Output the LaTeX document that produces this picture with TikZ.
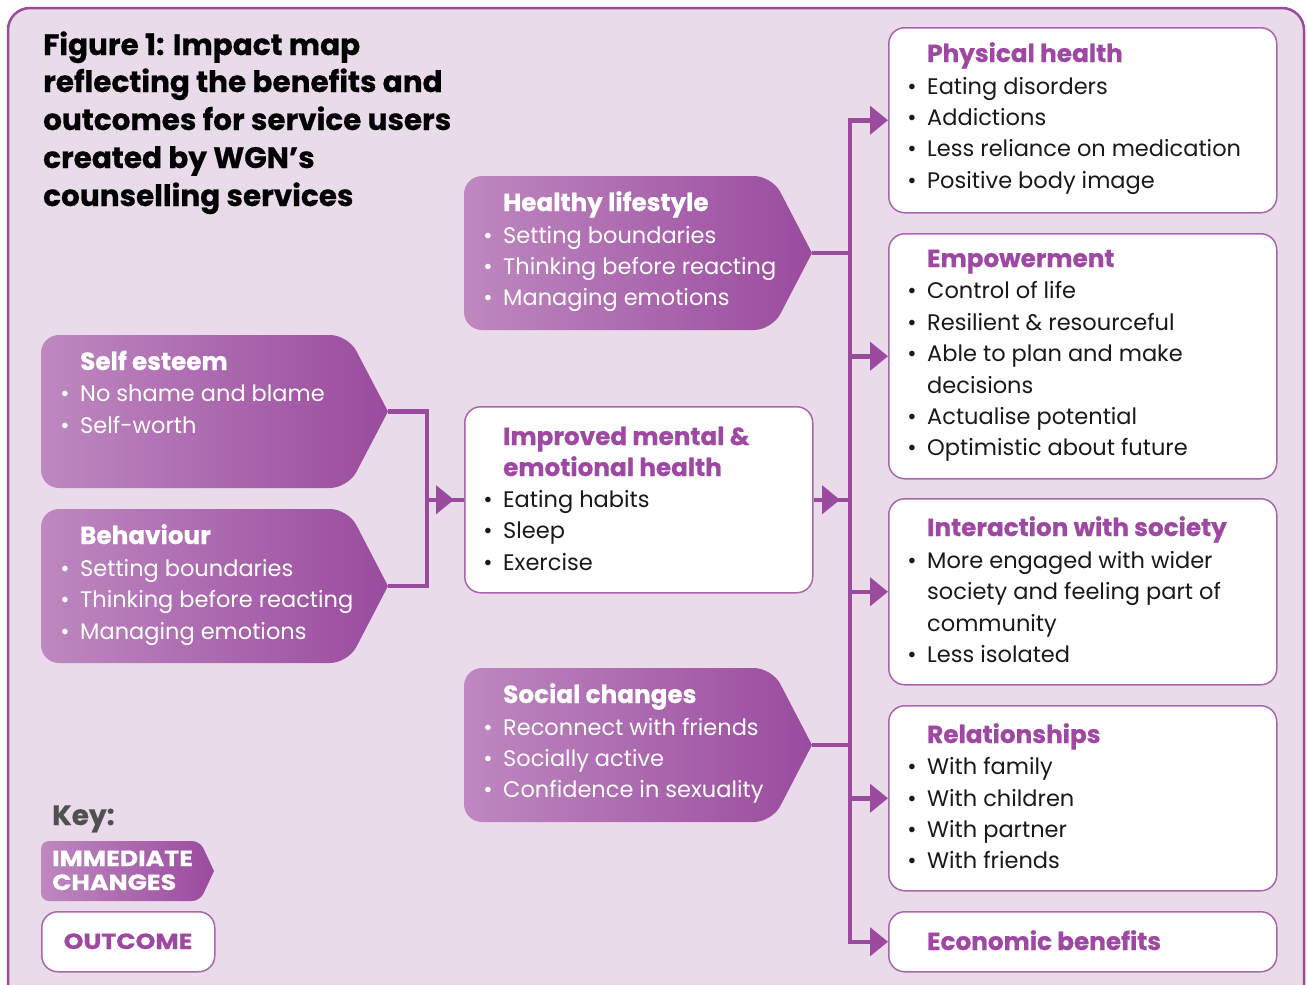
\documentclass[tikz,border=0pt]{standalone}
\usepackage{fontspec}
\setmainfont{Poppins}
\newfontfamily\heavyfont{Poppins}[FakeBold=0.6]
\newfontfamily\widefont{Poppins}[FakeBold=0.6,FakeStretch=1.15]
\usetikzlibrary{arrows.meta}
\definecolor{lav}{RGB}{234,219,235}
\definecolor{pur}{RGB}{154,75,158}
\definecolor{purl}{RGB}{190,136,192}
\definecolor{head}{RGB}{158,72,163}
\definecolor{txt}{RGB}{25,25,25}
\definecolor{keyg}{RGB}{80,80,80}
\newcommand\hdfont{\fontsize{24.7}{28}\heavyfont\bfseries}
\newcommand\bdfont{\fontsize{22.5}{27}\selectfont}
\newcommand\ttlfont{\fontsize{29.5}{34}\heavyfont\bfseries}
\newcommand\keyfont{\fontsize{22}{25}\widefont\bfseries}
% text line: name, x, y(baseline), text, style
\newcommand\mytx[5]{\node[anchor=base west,inner sep=0pt,#5] (#1) at (#2,#3) {#4};}
% bullet line
\newcommand\mybi[5]{\mytx{#1}{#2}{#3}{#4}{#5}\node[anchor=base,inner sep=0pt,#5] (#1-b) at (#2-15,#3) {\textbullet};}
% immediate-change shape: name, x0, y0, x1, y1, slope, radius
\newcommand\imm[7]{%
  \coordinate (#1-tip) at (#4,{(#3+#5)/2});
  \shade[left color=purl, middle color=pur, right color=pur]
    (#1-tip) [rounded corners=#7] -- (#4-#6,#5) -- (#2,#5) -- (#2,#3) -- (#4-#6,#3) -- (#1-tip);
}
\tikzset{
  conn/.style={draw=pur, line width=4.5pt},
  tipd/.style={-{Triangle[length=18pt,width=28pt]}},
  obox/.style={draw=pur!85, line width=1.5pt, fill=white, rounded corners=16pt, anchor=north west, inner sep=0pt},
  ht/.style={font=\hdfont, text=head},
  bt/.style={font=\bdfont, text=txt},
  wt/.style={font=\bdfont, text=white},
  wh/.style={font=\hdfont, text=white},
}
\begin{document}
\begin{tikzpicture}[x=1pt,y=-1pt]
\useasboundingbox (0,0) rectangle (1307,985);
\clip (0,0) rectangle (1307,985);
\fill[white] (0,0) rectangle (1307,985);
\draw[draw=pur, line width=2.5pt, fill=lav, rounded corners=22pt] (8,8) rectangle (1304,1030);

% title
\mytx{t1}{43}{55}{Figure 1: Impact map}{font=\ttlfont}
\mytx{t2}{43}{92}{reflecting the benefits and}{font=\ttlfont}
\mytx{t3}{43}{130}{outcomes for service users}{font=\ttlfont}
\mytx{t4}{43}{168}{created by WGN’s}{font=\ttlfont}
\mytx{t5}{43}{206}{counselling services}{font=\ttlfont}

% immediate changes
\imm{hl}{464}{176}{812}{330}{40}{18pt}
\mytx{hl-h}{503}{211}{Healthy lifestyle}{wh}
\mybi{hl-1}{503}{243}{Setting boundaries}{wt}
\mybi{hl-2}{503}{274}{Thinking before reacting}{wt}
\mybi{hl-3}{503}{305}{Managing emotions}{wt}

\imm{se}{41}{335}{388}{488}{40}{18pt}
\mytx{se-h}{80}{370}{Self esteem}{wh}
\mybi{se-1}{80}{401}{No shame and blame}{wt}
\mybi{se-2}{80}{433}{Self-worth}{wt}

\imm{be}{41}{509}{388}{663}{40}{18pt}
\mytx{be-h}{80}{544}{Behaviour}{wh}
\mybi{be-1}{80}{576}{Setting boundaries}{wt}
\mybi{be-2}{80}{607}{Thinking before reacting}{wt}
\mybi{be-3}{80}{639}{Managing emotions}{wt}

\imm{sc}{464}{668}{812}{822}{40}{18pt}
\mytx{sc-h}{503}{703}{Social changes}{wh}
\mybi{sc-1}{503}{735}{Reconnect with friends}{wt}
\mybi{sc-2}{503}{766}{Socially active}{wt}
\mybi{sc-3}{503}{797}{Confidence in sexuality}{wt}

% improved mental health
\node[obox, minimum width=348pt, minimum height=186pt] (imp) at (464,406) {};
\mytx{imp-h1}{503}{445}{Improved mental \&}{ht}
\mytx{imp-h2}{503}{476}{emotional health}{ht}
\mybi{imp-1}{503}{507}{Eating habits}{bt}
\mybi{imp-2}{503}{538}{Sleep}{bt}
\mybi{imp-3}{503}{570}{Exercise}{bt}

% outcomes
\node[obox, minimum width=388pt, minimum height=185pt] (ph) at (888,27) {};
\mytx{ph-h}{927}{62}{Physical health}{ht}
\mybi{ph-1}{927}{94}{Eating disorders}{bt}
\mybi{ph-2}{927}{125}{Addictions}{bt}
\mybi{ph-3}{927}{156}{Less reliance on medication}{bt}
\mybi{ph-4}{927}{188}{Positive body image}{bt}

\node[obox, minimum width=388pt, minimum height=245pt] (em) at (888,233) {};
\mytx{em-h}{927}{267}{Empowerment}{ht}
\mybi{em-1}{927}{298}{Control of life}{bt}
\mybi{em-2}{927}{330}{Resilient \& resourceful}{bt}
\mybi{em-3}{927}{361}{Able to plan and make}{bt}
\mytx{em-3b}{927}{393}{decisions}{bt}
\mybi{em-4}{927}{424}{Actualise potential}{bt}
\mybi{em-5}{927}{455}{Optimistic about future}{bt}

\node[obox, minimum width=388pt, minimum height=186pt] (in) at (888,498) {};
\mytx{in-h}{927}{536}{Interaction with society}{ht}
\mybi{in-1}{927}{568}{More engaged with wider}{bt}
\mytx{in-1b}{927}{599}{society and feeling part of}{bt}
\mytx{in-1c}{927}{631}{community}{bt}
\mybi{in-2}{927}{662}{Less isolated}{bt}

\node[obox, minimum width=388pt, minimum height=185pt] (re) at (888,705) {};
\mytx{re-h}{927}{743}{Relationships}{ht}
\mybi{re-1}{927}{774}{With family}{bt}
\mybi{re-2}{927}{806}{With children}{bt}
\mybi{re-3}{927}{837}{With partner}{bt}
\mybi{re-4}{927}{868}{With friends}{bt}

\node[obox, minimum width=388pt, minimum height=60pt] (ec) at (888,911) {};
\mytx{ec-h}{927}{950}{Economic benefits}{ht}

% key
\mytx{key}{52}{825}{Key:}{font=\fontsize{28}{32}\heavyfont\bfseries, text=keyg}
\imm{ky}{41}{841}{214}{901}{14}{8pt}
\mytx{ky-1}{52}{866}{IMMEDIATE}{font=\keyfont, text=white}
\mytx{ky-2}{52}{890}{CHANGES}{font=\keyfont, text=white}
\node[obox, minimum width=173pt, minimum height=60pt] (ko) at (41,911) {};
\node[inner sep=0pt, anchor=base, font=\keyfont, text=head] (ko-t) at (128,949) {OUTCOME};

% left connectors
\coordinate (jl) at (427,0);
\draw[conn] (se-tip) -| (jl |- imp.west) |- (be-tip);
\draw[conn] (jl |- imp.west) -- (imp.west);
\draw[conn, tipd, shorten >=10pt] (jl |- imp.west) -- (imp.west);

% right connectors
\coordinate (bus) at (850,0);
\draw[conn, line cap=rect] (ph.west -| bus) -- (ec.west -| bus);
\draw[conn] (hl-tip) -- (hl-tip -| bus);
\draw[conn] (sc-tip) -- (sc-tip -| bus);
\draw[conn] (imp.east) -- (imp.east -| bus);
\draw[conn, tipd, shorten >=10pt] (imp.east) -- (imp.east -| bus);
\foreach \b in {ph,em,in,re,ec}{
  \draw[conn, tipd] (\b.west -| bus) -- (\b.west);
}
\end{tikzpicture}
\end{document}
